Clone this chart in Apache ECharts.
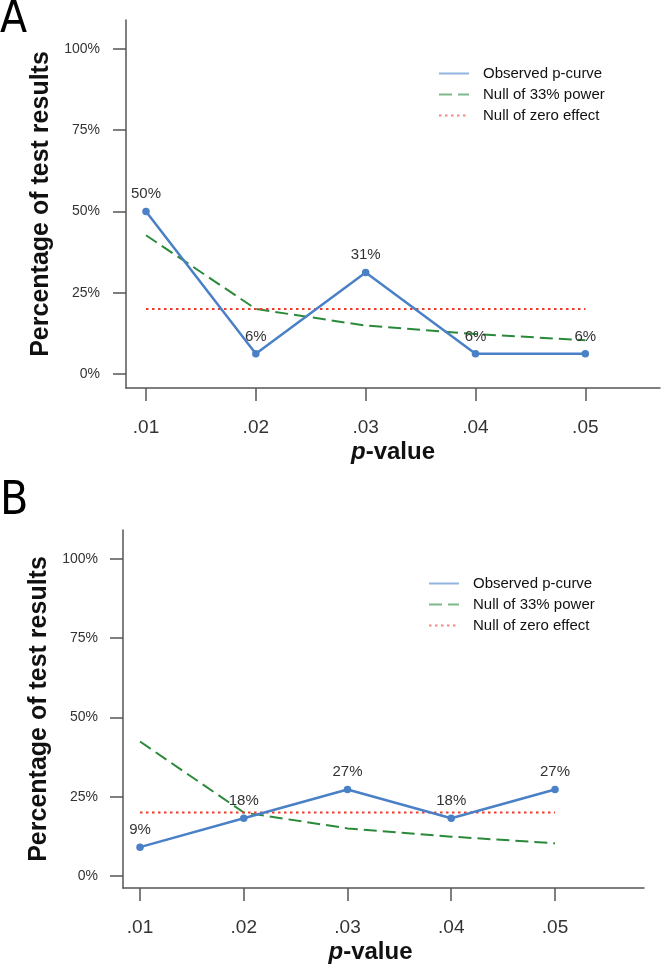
<html>
<head>
    <meta charset="utf-8">
    <title>p-curve</title>
    <script src="https://cdn.jsdelivr.net/npm/echarts@6/dist/echarts.min.js"></script>
</head>
<body style="margin:0">
    <div id="main" style="width: 662px;height:965px;"></div>
    <script type="text/javascript">
        // p-values on the x axis (in hundredths), shown as .01 ... .05
        var pValues = [1, 2, 3, 4, 5];
        var yTicks = [0, 25, 50, 75, 100];
        // panel A
        var observedA = [50, 6.25, 31.25, 6.25, 6.25];
        var power33A = [42.7, 20.0, 14.9, 12.3, 10.4];
        // panel B
        var observedB = [9.09, 18.18, 27.27, 18.18, 27.27];
        var power33B = [42.4, 20.0, 15.0, 12.4, 10.3];
        // null of zero effect, same for both
        var zeroEffect = [20, 20, 20, 20, 20];

        var FONT = '"Liberation Sans", Arial, sans-serif';
        var BLUE = '#4a80c6', GREEN = '#2a8a3a', RED = '#ee3b2b';

        function pairs(vals) {
            return pValues.map(function (p, i) { return [p, vals[i]]; });
        }

        var myChart = echarts.init(document.getElementById('main'));

        function xAxis(idx, min, max, padX) {
            return {
                type: 'value', gridIndex: idx, min: min, max: max,
                splitLine: { show: false },
                axisLine: { onZero: false, lineStyle: { color: '#555', width: 1.5 } },
                axisTick: { length: 13, customValues: pValues, lineStyle: { color: '#555', width: 1.5 } },
                axisLabel: {
                    customValues: pValues, margin: 30, fontSize: 19, color: '#333', fontFamily: FONT,
                    formatter: function (v) { return '.0' + v; }
                },
                name: '{i|p}{b|-value}', nameLocation: 'middle', nameGap: 52,
                nameTextStyle: {
                    padding: padX,
                    rich: {
                        i: { fontSize: 24, fontWeight: 'bold', fontStyle: 'italic', fontFamily: FONT, color: '#111' },
                        b: { fontSize: 24, fontWeight: 'bold', fontFamily: FONT, color: '#111' }
                    }
                }
            };
        }

        function yAxis(idx, min, max, margin, gap) {
            return {
                type: 'value', gridIndex: idx, min: min, max: max,
                splitLine: { show: false },
                axisLine: { show: true, onZero: false, lineStyle: { color: '#555', width: 1.5 } },
                axisTick: { show: true, length: 13, customValues: yTicks, lineStyle: { color: '#555', width: 1.5 } },
                axisLabel: {
                    customValues: yTicks, margin: margin, fontSize: 14, color: '#333', fontFamily: FONT,
                    formatter: '{value}%'
                },
                name: 'Percentage of test results', nameLocation: 'middle', nameGap: gap,
                nameTextStyle: { fontSize: 25, fontWeight: 'bold', color: '#111', fontFamily: FONT }
            };
        }

        function panelSeries(idx, observed, power) {
            return [
                {
                    name: 'Observed p-curve', type: 'line', xAxisIndex: idx, yAxisIndex: idx,
                    data: pairs(observed), symbol: 'circle', symbolSize: 7.5,
                    lineStyle: { color: BLUE, width: 2.5 }, itemStyle: { color: BLUE },
                    label: {
                        show: true, position: 'top', distance: 6, fontSize: 15, color: '#333', fontFamily: FONT,
                        formatter: function (p) { return Math.round(p.value[1]) + '%'; }
                    },
                    z: 5
                },
                {
                    name: 'Null of 33% power', type: 'line', xAxisIndex: idx, yAxisIndex: idx,
                    data: pairs(power), showSymbol: false, symbol: 'circle',
                    lineStyle: { color: GREEN, width: 2, type: [13, 6] }, itemStyle: { color: GREEN }
                },
                {
                    name: 'Null of zero effect', type: 'line', xAxisIndex: idx, yAxisIndex: idx,
                    data: pairs(zeroEffect), showSymbol: false, symbol: 'circle',
                    lineStyle: { color: RED, width: 2, type: [2.5, 3.5] }, itemStyle: { color: RED }
                }
            ];
        }

        function legend(left, top) {
            return {
                left: left, top: top, orient: 'vertical',
                itemWidth: 30, itemHeight: 14, itemGap: 6,
                itemStyle: { opacity: 0 },
                lineStyle: { opacity: 0.6 },
                textStyle: { fontSize: 15, color: '#111', fontFamily: FONT, padding: [0, 0, 0, 9] },
                data: ['Observed p-curve', 'Null of 33% power', 'Null of zero effect']
            };
        }

        var option = {
            animation: false,
            backgroundColor: '#fff',
            grid: [
                { left: 126, top: 20, width: 534, height: 368 },
                { left: 123, top: 530, width: 521, height: 358 }
            ],
            xAxis: [xAxis(0, 0.818, 5.68, [0, 0, 0, 0]), xAxis(1, 0.836, 5.858, [0, 26, 0, 0])],
            yAxis: [yAxis(0, -4.3, 108.9, 26, 71), yAxis(1, -3.8, 109.1, 25, 68)],
            legend: [legend(433, 61), legend(423, 571)],
            graphic: [
                { type: 'text', left: 0, top: -1, style: { text: 'A', font: '44px "DejaVu Sans Condensed"', fill: '#000' } },
                { type: 'text', left: 0, top: 479, style: { text: 'B', font: '46px "DejaVu Sans Condensed"', fill: '#000' } }
            ],
            series: panelSeries(0, observedA, power33A).concat(panelSeries(1, observedB, power33B))
        };

        myChart.setOption(option);
    </script>
</body>
</html>
